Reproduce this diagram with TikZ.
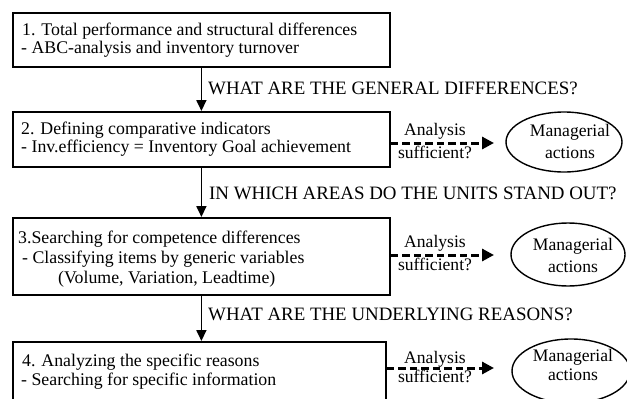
\documentclass[tikz,border=0pt]{standalone}
\usepackage{fontspec}
\setmainfont{Liberation Serif}
\usetikzlibrary{arrows.meta,shapes.geometric}

\begin{document}
\begin{tikzpicture}[x=1pt,y=-1pt,
  stage/.style={draw, line width=1.8pt, inner sep=0pt, anchor=north west},
  txt/.style={anchor=base west, inner sep=0pt, font=\fontsize{17.8}{20}\selectfont},
  ctxt/.style={anchor=base, inner sep=0pt, font=\fontsize{17.6}{20}\selectfont},
  question/.style={anchor=base west, inner sep=0pt, font=\fontsize{18.9}{21}\selectfont},
  action/.style={draw, ellipse, line width=1.4pt, inner sep=0pt},
  flow/.style={line width=1.8pt, -{Triangle[length=11pt,width=10pt]}},
  check/.style={line width=3pt, dash pattern=on 7.5pt off 4pt,
                -{Triangle[length=12pt,width=12pt]}}]

\useasboundingbox (0,0) rectangle (627,399);
\clip (0,0) rectangle (627,399);

% stage boxes
\node[stage, minimum width=377pt, minimum height=54pt] (b1) at (12,12) {};
\node[stage, minimum width=377pt, minimum height=55pt] (b2) at (12,111) {};
\node[stage, minimum width=377pt, minimum height=77pt] (b3) at (12,217) {};
\node[stage, minimum width=373pt, minimum height=75pt] (b4) at (12,341) {};

% stage texts
\node[txt] (b1a) at (22,35) {1. Total performance and structural differences};
\node[txt] (b1b) at (21,53) {- ABC-analysis and inventory turnover};
\node[txt] (b2a) at (21,134) {2. Defining comparative indicators};
\node[txt] (b2b) at (21,152) {- Inv.efficiency = Inventory Goal achievement};
\node[txt] (b3a) at (18,243) {3.Searching for competence differences};
\node[txt] (b3b) at (22,263) {- Classifying items by generic variables};
\node[txt] (b3c) at (58,283) {(Volume, Variation, Leadtime)};
\node[txt] (b4a) at (22,366) {4. Analyzing the specific reasons};
\node[txt] (b4b) at (21,385) {- Searching for specific information};

% flow between stages
\draw[flow] (b1.south) -- (b2.north);
\draw[flow] (b2.south) -- (b3.north);
\draw[flow] (b3.south) -- (b3.south |- b4.north);

\node[question] (q1) at (208,94) {WHAT ARE THE GENERAL DIFFERENCES?};
\node[question] (q2) at (209,199) {IN WHICH AREAS DO THE UNITS STAND OUT?};
\node[question] (q3) at (208,320) {WHAT ARE THE UNDERLYING REASONS?};

% exits to managerial actions
\coordinate (d2) at (494,143);
\coordinate (d3) at (494,255);
\coordinate (d4) at (494,368);
\draw[check] (b2.east |- d2) -- (d2);
\draw[check] (b3.east |- d3) -- (d3);
\draw[check] (b4.east |- d4) -- (d4);

\node[ctxt] (s2a) at (435,135) {Analysis};
\node[ctxt] (s2b) at (435,158) {sufficient?};
\node[ctxt] (s3a) at (435,247) {Analysis};
\node[ctxt] (s3b) at (435,270) {sufficient?};
\node[ctxt] (s4a) at (435,363) {Analysis};
\node[ctxt] (s4b) at (435,382) {sufficient?};

\node[action, minimum width=116pt, minimum height=60pt] (e2) at (564,142) {};
\node[action, minimum width=114pt, minimum height=63pt] (e3) at (568,254.5) {};
\node[action, minimum width=118pt, minimum height=64pt] (e4) at (571,371) {};

\node[ctxt] (m2a) at (570,136) {Managerial};
\node[ctxt] (m2b) at (570,158) {actions};
\node[ctxt] (m3a) at (573,250) {Managerial};
\node[ctxt] (m3b) at (573,272) {actions};
\node[ctxt] (m4a) at (573,361) {Managerial};
\node[ctxt] (m4b) at (573,380) {actions};
\end{tikzpicture}
\end{document}
